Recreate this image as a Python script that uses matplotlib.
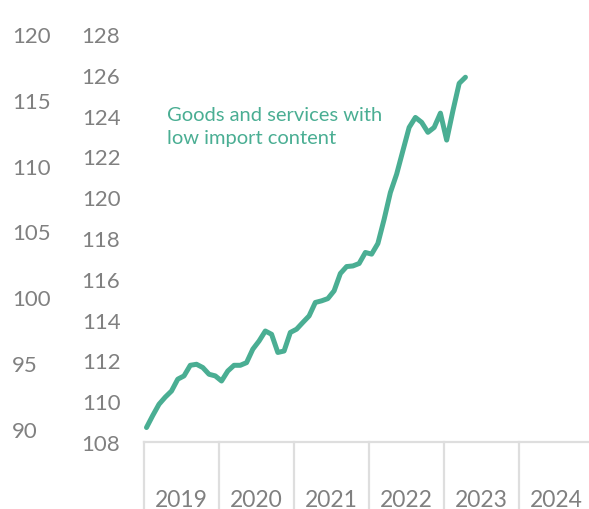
import matplotlib
matplotlib.use("Agg")

import numpy as np
from matplotlib import pyplot as plt
from matplotlib import transforms

# monthly index, Jan 2019 .. Apr 2023
values = [
    108.71, 109.30, 109.85, 110.20, 110.50, 111.08, 111.24, 111.76, 111.81, 111.65,
    111.32, 111.24, 110.99, 111.48, 111.76, 111.76, 111.89, 112.55, 112.95, 113.44,
    113.28, 112.39, 112.46, 113.37, 113.53, 113.86, 114.18, 114.84, 114.92, 115.03,
    115.41, 116.26, 116.60, 116.63, 116.75, 117.29, 117.21, 117.73, 118.92, 120.23,
    121.13, 122.28, 123.42, 123.91, 123.67, 123.18, 123.42, 124.12, 122.80, 124.24,
    125.58, 125.88,
]
start_year = 2019
years = [2019, 2020, 2021, 2022, 2023, 2024]
inner_ticks = [108, 110, 112, 114, 116, 118, 120, 122, 124, 126, 128]
outer_ticks = [90, 95, 100, 105, 110, 115, 120]
label_text = "Goods and services with\nlow import content"

LINE_COLOR = "#4aae93"
TEXT_GRAY = "#808080"
RULE_GRAY = "#dedede"
FONT = "Lato"

dates = start_year + (np.arange(len(values)) + 0.4) / 12

fig = plt.figure(figsize=(5.89, 5.10), dpi=100)
rect = [144 / 589, 1 - 443 / 510, 1 - 144 / 589, (443 - 35) / 510]
ax = fig.add_axes(rect)
ax.plot(dates, values, color=LINE_COLOR, linewidth=3.6,
        solid_capstyle="round", solid_joinstyle="round", clip_on=False)

ax.set_xlim(years[0], years[-1] + 0.93)
ax.set_ylim(108, 128)
ax.set_yticks(inner_ticks)
ax.set_xticks([])
ax.tick_params(axis="y", length=0, pad=17, labelsize=16, labelcolor=TEXT_GRAY)
for lbl in ax.get_yticklabels():
    lbl.set_fontfamily(FONT)
for side in ["top", "right", "left"]:
    ax.spines[side].set_visible(False)
ax.spines["bottom"].set_color(RULE_GRAY)
ax.spines["bottom"].set_linewidth(1.6)

# outer (left-most) scale
ax2 = fig.add_axes(rect, frameon=False)
ax2.set_ylim(89, 120)
ax2.set_yticks(outer_ticks)
ax2.set_xticks([])
ax2.tick_params(axis="y", length=0, pad=95, labelsize=16, labelcolor=TEXT_GRAY)
for lbl in ax2.get_yticklabels():
    lbl.set_fontfamily(FONT)
    lbl.set_horizontalalignment("left")
ax2.patch.set_visible(False)

# year boxes under the axis
trans = transforms.blended_transform_factory(ax.transData, ax.transAxes)
for yr in years:
    ax.plot([yr, yr], [0, -0.17], transform=trans, color=RULE_GRAY,
            linewidth=1.6, clip_on=False)
    ax.text(yr + 0.5, -0.14, str(yr), transform=trans, ha="center", va="center",
            fontsize=16.5, color=TEXT_GRAY, fontfamily=FONT)

ax.text(2019.3, 123.47, label_text, color=LINE_COLOR, fontsize=14.5,
        fontfamily=FONT, ha="left", va="center", linespacing=1.42)

fig.savefig("out.png", dpi=100)
